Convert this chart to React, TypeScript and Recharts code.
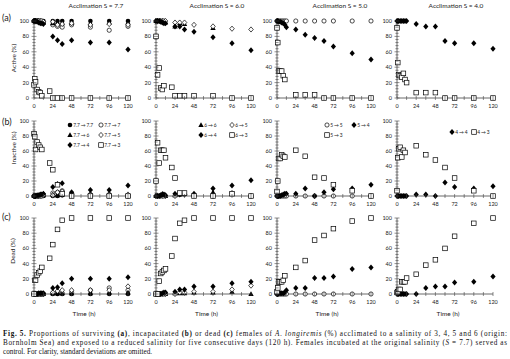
import React from "react";
import { Scatter, ScatterChart, XAxis, YAxis } from "recharts";

const FONT = "Lato, 'Open Sans', sans-serif";
const SERIF = "'Liberation Serif', 'DejaVu Serif', serif";

// sampling times (h) per acclimation group
const times77 = [0, 1, 2, 4, 6, 8, 10, 12, 20, 24, 30, 36, 48, 72, 96, 120];
const times6 = [0, 2, 4, 6, 8, 10, 12, 20, 24, 30, 36, 48, 72, 96, 120];
const times5 = [0, 1, 2, 4, 6, 8, 10, 12, 24, 36, 48, 60, 72, 96, 120];
const times4 = [0, 1, 2, 4, 6, 8, 10, 12, 24, 36, 48, 60, 72, 96, 120];

// acclimation 7.7
const active77_77 = [100, 100, 100, 100, 100, 100, 100, 100, null, 100, 100, 100, 100, 100, 100, 100];
const active77_7 = [100, 100, 100, 100, 100, 99, 98, 98, null, 95, 93, 92, 95, 92, 88, 93];
const active77_6 = [100, 100, 100, 100, 100, 100, 99, 98, null, 97, 98, 97, 98, 97, 98, 98];
const active77_5 = [100, 100, 100, 100, 100, 100, 100, 99, null, 99, 95, 96, 97, 95, 96, 95];
const active77_4 = [100, 100, 100, 99, 98, 97, 97, 96, null, 80, 75, 70, 75, 72, 72, 63];
const active77_3 = [17, 25, 21, 11, 8, 7, 3, null, 9, 0, 0, 0, 0, 0, 0, 0];
const inactive77_77 = [0, 0, 0, 0, 0, 0, 0, 0, null, 0, 0, 1, 0, 0, 0, 0];
const inactive77_7 = [0, 0, 0, 0, 0, 1, 2, 2, null, 4, 5, 7, 3, 2, 2, 0];
const inactive77_6 = [0, 0, 0, 0, 0, 0, 1, 1, null, 2, 1, 2, 1, 1, 0, 0];
const inactive77_5 = [0, 0, 0, 0, 0, 0, 0, 1, null, 1, 5, 6, 2, 2, 2, 2];
const inactive77_4 = [0, 0, 0, 1, 1, 2, 2, 3, null, 12, 16, 17, 5, 8, 8, 14];
const inactive77_3 = [83, 79, 62, 72, 68, 65, 62, null, 44, 35, 15, 3, 0, 0, 0, 0];
const dead77_77 = [0, 0, 0, 0, 0, 0, 0, 0, null, 0, 0, 0, 0, 0, 0, 0];
const dead77_7 = [0, 0, 0, 0, 0, 0, 0, 0, null, 1, 2, 1, 2, 5, 8, 5];
const dead77_6 = [0, 0, 0, 0, 0, 0, 0, 0, null, 1, 1, 1, 1, 1, 2, 2];
const dead77_5 = [0, 0, 0, 0, 0, 0, 0, 0, null, 2, 4, 5, 5, 5, 5, 10];
const dead77_4 = [0, 0, 0, 0, 1, 1, 1, 1, null, 8, 9, 14, 20, 20, 20, 22];
const dead77_3 = [0, 18, 18, 25, 28, 30, 35, null, 47, 65, 85, 97, 100, 100, 100, 100];

// acclimation 6
const active6_6 = [100, 100, 100, 100, 100, 99, 98, null, 93, 97, 96, null, 91, null, null];
const active6_5 = [100, 100, 100, 100, 100, 100, 100, null, 98, 98, 98, 95, 93, 90, 89];
const active6_4 = [100, 100, 100, 99, 98, 97, 97, null, 93, 93, 89, 86, 79, 71, 62];
const active6_3 = [80, 30, 39, 13, 11, 16, null, 14, 3, 3, 3, 3, 3, 0, 0];
const inactive6_6 = [0, 0, 0, 1, 3, 2, 0, null, 1, 2, 3, 2, 5, 3, 0];
const inactive6_5 = [0, 0, 0, 0, 0, 0, 0, null, 0, 3, 2, 1, 0, 4, 0];
const inactive6_4 = [0, 0, 0, 1, 2, 2, 1, null, 3, 2, 3, 3, 10, 14, 21];
const inactive6_3 = [20, 71, 44, 61, 61, 61, 51, 38, 24, 4, 4, 0, 0, 3, 0];
const dead6_6 = [0, 0, 0, 0, 0, 0, 0, null, 1, 1, 1, 2, 2, 3, 0];
const dead6_5 = [0, 0, 0, 0, 0, 0, 0, null, 0, 2, 2, 3, 3, 6, 11];
const dead6_4 = [0, 0, 0, 0, 1, 2, 2, null, 3, 6, 6, 10, 10, 14, 16];
const dead6_3 = [0, 0, 17, 27, 29, 31, 33, 50, 73, 93, 97, 100, 100, 100, 100];

// acclimation 5
const active5_5 = [100, 100, 100, 100, 100, 100, 100, 100, 100, 100, 100, 100, 100, 100, 100];
const active5_4 = [100, 100, 99, 99, 98, 97, 95, 92, 89, 82, 78, 74, 67, 58, 50];
const active5_3 = [91, 72, 35, 35, 35, 29, 24, null, 4, 4, 4, 0, 0, 0, 0];
const inactive5_5 = [0, 0, 0, 0, 0, 0, 0, 0, 0, 0, 0, 0, 0, 0, 0];
const inactive5_4 = [0, 0, 0, 0, 1, 2, 3, 3, 3, 10, 0, 5, 9, 10, 15];
const inactive5_3 = [6, 20, 50, 50, 55, 53, 52, null, 61, 53, 25, 24, 15, 7, 0];
const dead5_5 = [0, 0, 0, 0, 0, 0, 0, 0, 0, 0, 0, 0, 0, 0, 0];
const dead5_4 = [0, 0, 1, 1, 1, 1, 2, 5, 8, 8, 21, 21, 23, 33, 35];
const dead5_3 = [3, 8, 16, 16, 16, 18, 24, null, 35, 44, 71, 77, 86, 96, 100];

// acclimation 4
const active4_4 = [100, 100, 100, 100, 100, 100, 100, 100, 96, 93, 93, 74, 71, 71, 64];
const active4_3 = [91, 46, 30, 29, 27, 32, 24, 20, 7, 7, 7, 0, 0, 0, 0];
const inactive4_4 = [0, 0, 0, 0, 0, 0, 0, 0, 2, 2, 0, 18, 12, 10, 13];
const inactive4_3 = [7, 51, 63, 65, 52, 61, 58, null, 67, 55, 48, 38, 24, 7, 0];
const dead4_4 = [0, 0, 0, 0, 0, 0, 0, 0, 0, 8, 10, 10, 15, 16, 23];
const dead4_3 = [2, 3, 6, 6, 16, 16, 16, 21, 26, 38, 45, 60, 76, 93, 100];

const titles = ["Acclimation S = 7.7", "Acclimation S = 6.0", "Acclimation S = 5.0", "Acclimation S = 4.0"];
const xTicks = [0, 12, 24, 36, 48, 60, 72, 84, 96, 108, 120];
const yTicks = Array.from({ length: 26 }, (_, k) => k * 4);

type Kind = "dot" | "ring" | "tri" | "odia" | "dia" | "sq";

const columns = [
  {
    x0: 34, x1: 128, times: times77, titleX: 96,
    series: [
      { kind: "dot", name: "7.7 \u2192 7.7", rows: [active77_77, inactive77_77, dead77_77] },
      { kind: "ring", name: "7.7 \u2192 7", rows: [active77_7, inactive77_7, dead77_7] },
      { kind: "tri", name: "7.7 \u2192 6", rows: [active77_6, inactive77_6, dead77_6] },
      { kind: "odia", name: "7.7 \u2192 5", rows: [active77_5, inactive77_5, dead77_5] },
      { kind: "dia", name: "7.7 \u2192 4", rows: [active77_4, inactive77_4, dead77_4] },
      { kind: "sq", name: "7.7 \u2192 3", rows: [active77_3, inactive77_3, dead77_3] },
    ],
  },
  {
    x0: 156, x1: 251, times: times6, titleX: 217,
    series: [
      { kind: "tri", name: "6 \u2192 6", rows: [active6_6, inactive6_6, dead6_6] },
      { kind: "odia", name: "6 \u2192 5", rows: [active6_5, inactive6_5, dead6_5] },
      { kind: "dia", name: "6 \u2192 4", rows: [active6_4, inactive6_4, dead6_4] },
      { kind: "sq", name: "6 \u2192 3", rows: [active6_3, inactive6_3, dead6_3] },
    ],
  },
  {
    x0: 277, x1: 371, times: times5, titleX: 340,
    series: [
      { kind: "ring", name: "5 \u2192 5", rows: [active5_5, inactive5_5, dead5_5] },
      { kind: "dia", name: "5 \u2192 4", rows: [active5_4, inactive5_4, dead5_4] },
      { kind: "sq", name: "5 \u2192 3", rows: [active5_3, inactive5_3, dead5_3] },
    ],
  },
  {
    x0: 397, x1: 493, times: times4, titleX: 456,
    series: [
      { kind: "dia", name: "4 \u2192 4", rows: [active4_4, inactive4_4, dead4_4] },
      { kind: "sq", name: "4 \u2192 3", rows: [active4_3, inactive4_3, dead4_3] },
    ],
  },
];

const rowsPos = [
  { top: 21, bottom: 98 },
  { top: 121, bottom: 196 },
  { top: 218, bottom: 294 },
];

// legend placement in row (b): [x of marker, y] per entry
const legendPos = [
  [[70, 125], [101, 125], [70, 135], [101, 135], [70, 145], [101, 145]],
  [[201, 125], [232, 125], [201, 135], [232, 135]],
  [[327, 125], [354, 125], [327, 135]],
  [[452, 132], [474, 132]],
];

function Mark({ kind, x, y }: { kind: Kind; x: number; y: number }) {
  const s = 0.7;
  switch (kind) {
    case "dot":
      return <circle cx={x} cy={y} r={2.3} fill="#000" />;
    case "ring":
      return <circle cx={x} cy={y} r={2.1} fill="#fff" stroke="#000" strokeWidth={s} />;
    case "tri":
      return <path d={`M${x},${y - 2.8}L${x + 2.7},${y + 2}L${x - 2.7},${y + 2}Z`} fill="#000" />;
    case "odia":
      return <path d={`M${x},${y - 2.6}L${x + 2.3},${y}L${x},${y + 2.6}L${x - 2.3},${y}Z`} fill="#fff" stroke="#000" strokeWidth={s} />;
    case "dia":
      return <path d={`M${x},${y - 3}L${x + 2.6},${y}L${x},${y + 3}L${x - 2.6},${y}Z`} fill="#000" />;
    default:
      return <rect x={x - 2.3} y={y - 2.3} width={4.6} height={4.6} fill="#fff" stroke="#000" strokeWidth={s} />;
  }
}

const pts = (times: number[], vals: (number | null)[]) =>
  times.map((t, k) => ({ t, v: vals[k] })).filter((p) => p.v !== null);

const yTick = (props: any) => {
  const { x, y, payload } = props;
  const major = payload.value % 20 === 0;
  const l = major ? 2.5 : 1.6;
  return (
    <g>
      <line x1={x - l} x2={x + l} y1={y} y2={y} stroke="#444" strokeWidth={0.6} />
      {major && (
        <text x={x - 5} y={y + 2} textAnchor="end" fontSize={5.5} fill="#222" fontFamily={FONT}>
          {payload.value}
        </text>
      )}
    </g>
  );
};

const xTick = (props: any) => {
  const { x, y, payload } = props;
  const major = payload.value % 24 === 0;
  return (
    <g>
      <line x1={x} x2={x} y1={y - 2} y2={y + 2} stroke="#444" strokeWidth={0.6} />
      {major && (
        <text x={x} y={y + 10} textAnchor="middle" fontSize={5.5} fill="#222" fontFamily={FONT}>
          {payload.value}
        </text>
      )}
    </g>
  );
};

function Panel({ ci, ri }: { ci: number; ri: number }) {
  const col = columns[ci];
  const row = rowsPos[ri];
  const PL = 20, PR = 6, PT = 6, PB = 14;
  const w = col.x1 - col.x0;
  const h = row.bottom - row.top;
  return (
    <div style={{ position: "absolute", left: col.x0 - PL, top: row.top - PT }}>
      <ScatterChart width={w + PL + PR} height={h + PT + PB} margin={{ top: PT, right: PR, bottom: 0, left: 0 }}>
        <XAxis
          type="number"
          dataKey="t"
          domain={[0, 120]}
          ticks={xTicks}
          interval={0}
          height={PB}
          tickSize={0}
          tickMargin={0}
          tickLine={false}
          tick={xTick}
          axisLine={{ stroke: "#444", strokeWidth: 0.8 }}
        />
        <YAxis
          type="number"
          dataKey="v"
          domain={[0, 100]}
          ticks={yTicks}
          interval={0}
          width={PL}
          tickSize={0}
          tickMargin={0}
          tickLine={false}
          tick={yTick}
          axisLine={{ stroke: "#444", strokeWidth: 0.8 }}
        />
        {col.series.map((s) => (
          <Scatter
            key={s.name}
            data={pts(col.times, s.rows[ri])}
            isAnimationActive={false}
            shape={(p: any) => <Mark kind={s.kind as Kind} x={p.cx} y={p.cy} />}
          />
        ))}
      </ScatterChart>
    </div>
  );
}

export default function App() {
  const txt = { fontFamily: FONT, fill: "#222" };
  return (
    <div style={{ position: "absolute", left: 0, top: 0, width: 510, height: 359, background: "#fff" }}>
      {columns.map((_, ci) => rowsPos.map((_, ri) => <Panel key={`${ci}-${ri}`} ci={ci} ri={ri} />))}
      <svg width={510} height={359} style={{ position: "absolute", left: 0, top: 0, pointerEvents: "none" }}>
        {titles.map((t, k) => (
          <text key={t} x={columns[k].titleX} y={8} textAnchor="middle" fontSize={6.5} {...txt}>
            {t}
          </text>
        ))}
        <text x={2} y={21} fontSize={9} {...txt}>(a)</text>
        <text x={2} y={125} fontSize={9} {...txt}>(b)</text>
        <text x={2} y={220} fontSize={9} {...txt}>(c)</text>
        <text transform="translate(16,58) rotate(-90)" textAnchor="middle" fontSize={6.5} {...txt}>Active (%)</text>
        <text transform="translate(16,148) rotate(-90)" textAnchor="middle" fontSize={6.5} {...txt}>Inactive (%)</text>
        <text transform="translate(15,251) rotate(-90)" textAnchor="middle" fontSize={6.5} {...txt}>Dead (%)</text>
        {columns.map((c, k) => (
          <text key={k} x={(c.x0 + c.x1) / 2 + 3} y={316} textAnchor="middle" fontSize={6.5} {...txt}>
            Time (h)
          </text>
        ))}
        {columns.map((c, ci) =>
          c.series.map((s, si) => {
            const [lx, ly] = legendPos[ci][si];
            return (
              <g key={`${ci}-${si}`}>
                <Mark kind={s.kind as Kind} x={lx} y={ly} />
                <text x={lx + 3.2} y={ly + 1.8} fontSize={4.9} letterSpacing={-0.15} {...txt}>
                  {s.name}
                </text>
              </g>
            );
          })
        )}
        <g fontFamily={SERIF} fontSize={7.2} fill="#111">
          <text x={3} y={336} textLength={504} lengthAdjust="spacing">
            <tspan fontWeight="bold">Fig. 5.</tspan> Proportions of surviving <tspan fontWeight="bold">(a)</tspan>, incapacitated{" "}
            <tspan fontWeight="bold">(b)</tspan> or dead <tspan fontWeight="bold">(c)</tspan> females of{" "}
            <tspan fontStyle="italic">A. longiremis</tspan> (%) acclimated to a salinity of 3, 4, 5 and 6 (origin:
          </text>
          <text x={3} y={345} textLength={504} lengthAdjust="spacing">
            Bornholm Sea) and exposed to a reduced salinity for five consecutive days (120 h). Females incubated at the original salinity (
            <tspan fontStyle="italic">S</tspan> = 7.7) served as
          </text>
          <text x={3} y={354}>control. For clarity, standard deviations are omitted.</text>
        </g>
      </svg>
    </div>
  );
}
